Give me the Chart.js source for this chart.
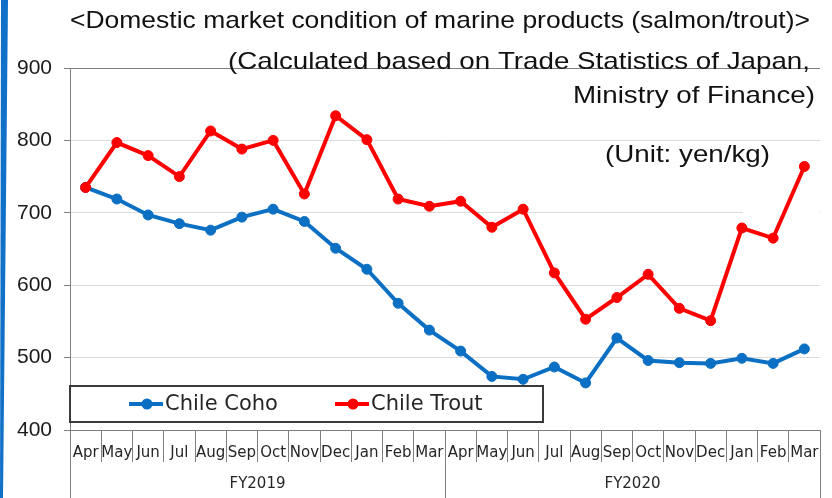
<!DOCTYPE html>
<html>
<head>
<meta charset="utf-8">
<script src="https://cdn.jsdelivr.net/npm/chart.js@4/dist/chart.umd.min.js"></script>
<style>
  html, body { margin: 0; padding: 0; background: #ffffff; }
  #wrap { width: 832px; height: 498px; position: relative; }
</style>
</head>
<body>
<div id="wrap"><canvas id="c" width="832" height="498"></canvas></div>
<script>
// Months of each fiscal year (April to March)
const months = ['Apr','May','Jun','Jul','Aug','Sep','Oct','Nov','Dec','Jan','Feb','Mar',
                'Apr','May','Jun','Jul','Aug','Sep','Oct','Nov','Dec','Jan','Feb','Mar'];
const fiscalYears = ['FY2019', 'FY2020'];
const monthsPerYear = 12;

// Import unit price, yen/kg
const chileCoho = [735, 719, 697, 685, 676, 694, 705, 688, 651, 622, 575, 538,
                   509, 474, 470, 487, 465, 527, 496, 493, 492, 499, 492, 512];
const chileTrout = [735, 797, 779, 750, 813, 788, 800, 726, 834, 801, 719, 709,
                    716, 680, 705, 617, 553, 583, 615, 568, 551, 679, 665, 764];

const yTicks = [400, 500, 600, 700, 800, 900];

const titleLines = [
  '<Domestic market condition of marine products (salmon/trout)>',
  '(Calculated based on Trade Statistics of Japan,',
  'Ministry of Finance)'
];
const unitLabel = '(Unit: yen/kg)';

const COHO = '#0b6fc3';
const TROUT = '#ff0000';
const AXIS = '#7f7f7f';
const GRID = '#dcdcdc';

// draws text between a left and a right edge, stretched horizontally like the
// wide presentation font the headings use
function wideText(ctx, text, left, right, y) {
  const w = ctx.measureText(text).width;
  ctx.save();
  ctx.translate(left, y);
  ctx.scale((right - left) / w, 1);
  ctx.textAlign = 'left';
  ctx.fillText(text, 0, 0);
  ctx.restore();
}

const pageDecor = {
  id: 'pageDecor',
  beforeDraw(chart) {
    const ctx = chart.ctx;
    ctx.save();
    ctx.fillStyle = '#ffffff';
    ctx.fillRect(0, 0, chart.width, chart.height);
    // slanted blue strip along the left edge
    ctx.fillStyle = '#1170c8';
    ctx.beginPath();
    ctx.moveTo(1, 0); ctx.lineTo(8, 0); ctx.lineTo(3, chart.height); ctx.lineTo(0, chart.height);
    ctx.closePath();
    ctx.fill();
    ctx.restore();
  },
  beforeDatasetsDraw(chart) {
    const ctx = chart.ctx;
    const area = chart.chartArea;
    const y = chart.scales.y;
    ctx.save();
    // backdrop of the unit text box (hides a bit of the 700 gridline)
    ctx.fillStyle = '#ffffff';
    ctx.fillRect(743, y.getPixelForValue(700) - 5, area.right - 744, 10);

    // legend box inside the plot area
    const lx = area.left, ly = 386, lw = 473, lh = 36;
    ctx.fillStyle = '#ffffff';
    ctx.fillRect(lx, ly, lw, lh);
    ctx.strokeStyle = '#3a3a3a';
    ctx.lineWidth = 2;
    ctx.strokeRect(lx, ly, lw, lh);
    const cy = ly + lh / 2;
    const items = [{x: 129}, {x: 335}];
    ctx.font = '21px "DejaVu Sans"';
    ctx.textBaseline = 'middle';
    ctx.textAlign = 'left';
    chart.data.datasets.forEach((ds, i) => {
      const x0 = items[i].x;
      ctx.strokeStyle = ds.borderColor;
      ctx.lineWidth = 4;
      ctx.beginPath();
      ctx.moveTo(x0, cy); ctx.lineTo(x0 + 34, cy);
      ctx.stroke();
      ctx.fillStyle = ds.backgroundColor;
      ctx.beginPath();
      ctx.arc(x0 + 18, cy, 5.5, 0, Math.PI * 2);
      ctx.fill();
      ctx.fillStyle = '#262626';
      ctx.fillText(ds.label, x0 + 36, cy + 1);
    });
    ctx.restore();
  },
  afterDraw(chart) {
    const ctx = chart.ctx;
    const x = chart.scales.x;
    const area = chart.chartArea;
    ctx.save();
    // fiscal-year group row under the month labels
    ctx.strokeStyle = AXIS;
    ctx.lineWidth = 1;
    const bounds = [];
    for (let g = 0; g <= fiscalYears.length; g++) {
      let px;
      if (g === 0) px = area.left;
      else if (g === fiscalYears.length) px = area.right;
      else px = (x.getPixelForTick(g * monthsPerYear - 1) + x.getPixelForTick(g * monthsPerYear)) / 2;
      bounds.push(px);
      const sx = Math.round(px) + 0.5;
      ctx.beginPath();
      ctx.moveTo(sx, x.top);
      ctx.lineTo(sx, chart.height);
      ctx.stroke();
    }
    ctx.fillStyle = '#262626';
    ctx.font = '15px "DejaVu Sans"';
    ctx.textAlign = 'center';
    ctx.textBaseline = 'middle';
    fiscalYears.forEach((fy, g) => {
      ctx.fillText(fy, (bounds[g] + bounds[g + 1]) / 2, 484);
    });

    // titles
    ctx.fillStyle = '#111111';
    ctx.font = '24px "Liberation Sans", Arial, sans-serif';
    ctx.textBaseline = 'middle';
    wideText(ctx, titleLines[0], 70, 810, 21);
    wideText(ctx, titleLines[1], 228, 810, 62);
    wideText(ctx, titleLines[2], 573, 815, 96);
    wideText(ctx, unitLabel, 605, 770, 155);
    ctx.restore();
  }
};

new Chart(document.getElementById('c'), {
  type: 'line',
  data: {
    labels: months,
    datasets: [
      {
        label: 'Chile Coho',
        data: chileCoho,
        order: 1,
        borderColor: COHO,
        backgroundColor: COHO,
        pointBackgroundColor: COHO,
        pointBorderColor: COHO,
        borderWidth: 4,
        pointRadius: 5,
        pointBorderWidth: 1,
        tension: 0
      },
      {
        label: 'Chile Trout',
        data: chileTrout,
        order: 0,
        borderColor: TROUT,
        backgroundColor: TROUT,
        pointBackgroundColor: TROUT,
        pointBorderColor: TROUT,
        borderWidth: 4,
        pointRadius: 5,
        pointBorderWidth: 1,
        tension: 0
      }
    ]
  },
  options: {
    responsive: false,
    animation: false,
    devicePixelRatio: 1,
    layout: { padding: { left: 0, top: 68, right: 12, bottom: 0 } },
    plugins: {
      legend: { display: false },
      title: { display: false },
      tooltip: { enabled: false }
    },
    scales: {
      x: {
        type: 'category',
        offset: true,
        grid: {
          offset: true,
          drawOnChartArea: false,
          drawTicks: true,
          tickLength: 32,
          tickColor: AXIS,
          lineWidth: 1
        },
        border: { color: AXIS, width: 1 },
        ticks: {
          autoSkip: false,
          maxRotation: 0,
          minRotation: 0,
          padding: -18,
          color: '#262626',
          font: { family: 'DejaVu Sans', size: 15 }
        },
        afterFit(scale) { scale.height = 68; }
      },
      y: {
        min: 400,
        max: 900,
        afterBuildTicks(scale) { scale.ticks = yTicks.map(v => ({ value: v })); },
        grid: {
          color: ctx => (ctx.tick && ctx.tick.value === 900) ? AXIS : GRID,
          tickColor: AXIS,
          tickLength: 6,
          lineWidth: 1
        },
        border: { color: AXIS, width: 1 },
        ticks: {
          padding: 12,
          color: '#1a1a1a',
          font: { family: 'Liberation Sans', size: 21 }
        },
        afterFit(scale) { scale.width = 70; }
      }
    }
  },
  plugins: [pageDecor]
});
</script>
</body>
</html>
